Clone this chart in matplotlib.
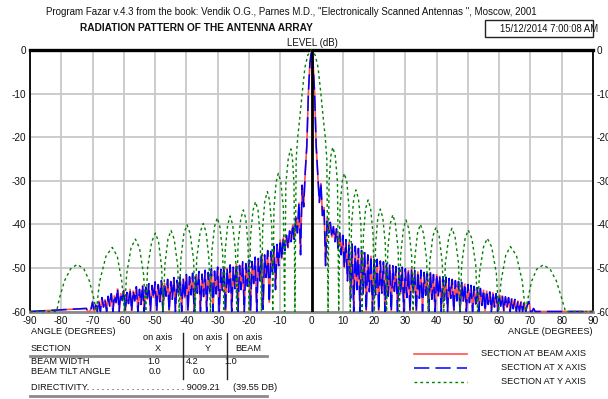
import numpy as np
import matplotlib
matplotlib.use("Agg")
import matplotlib.pyplot as plt
from matplotlib.lines import Line2D
from matplotlib.patches import Rectangle

plt.rcParams["font.family"] = ["Liberation Sans", "DejaVu Sans"]
plt.rcParams["axes.unicode_minus"] = False

# ---------------- data ----------------
x_ticks = list(range(-90, 91, 10))
y_ticks = list(range(-60, 1, 10))
level_floor = -60

# Section at beam axis / section at X axis, sampled every 0.5 deg from -72 to 72 deg (dB)
beam_start, beam_step = -72.0, 0.5
beam_db = [
    # -72.0 .. -67.5
    -59.3, -60.0, -60.0, -59.5, -57.8, -60.0, -58.5, -60.0, -57.5, -60.0,
    # -67.0 .. -62.5
    -56.8, -59.0, -57.2, -60.0, -56.5, -58.8, -55.9, -60.0, -56.3, -58.0,
    # -62.0 .. -57.5
    -54.7, -60.0, -55.8, -57.5, -55.0, -60.0, -55.6, -58.2, -54.8, -60.0,
    # -57.0 .. -52.5
    -55.2, -57.6, -54.3, -60.0, -54.9, -58.4, -53.9, -60.0, -54.4, -57.3,
    # -52.0 .. -47.5
    -53.6, -60.0, -54.0, -56.9, -53.2, -60.0, -53.8, -57.8, -52.9, -60.0,
    # -47.0 .. -42.5
    -53.4, -56.5, -52.6, -60.0, -53.1, -57.2, -52.2, -60.0, -52.8, -56.3,
    # -42.0 .. -37.5
    -51.8, -60.0, -52.4, -57.0, -51.5, -60.0, -52.0, -56.2, -51.2, -60.0,
    # -37.0 .. -32.5
    -51.7, -55.8, -50.8, -60.0, -51.4, -56.6, -50.5, -60.0, -51.0, -55.5,
    # -32.0 .. -27.5
    -50.2, -60.0, -50.7, -56.0, -49.8, -60.0, -50.3, -55.2, -49.6, -60.0,
    # -27.0 .. -22.5
    -50.0, -55.6, -49.3, -60.0, -49.8, -54.8, -49.0, -60.0, -49.4, -55.0,
    # -22.0 .. -17.5
    -48.6, -60.0, -49.0, -54.2, -48.2, -60.0, -48.5, -53.6, -47.5, -60.0,
    # -17.0 .. -12.5
    -47.8, -53.0, -46.8, -59.5, -47.0, -52.2, -46.0, -58.0, -46.2, -51.0,
    # -12.0 .. -7.5
    -45.0, -55.0, -44.6, -49.5, -43.5, -48.0, -43.0, -46.0, -42.5, -45.5,
    # -7.0 .. -2.5
    -41.5, -44.0, -40.0, -43.5, -38.5, -42.0, -35.0, -47.0, -31.0, -36.0,
    # -2.0 .. 2.0
    -28.0, -22.0, -10.0, -3.0, 0.0, -3.0, -10.0, -22.0, -28.5,
    # 2.5 .. 7.0
    -35.0, -30.5, -38.0, -36.0, -49.5, -38.5, -42.0, -39.5, -43.0, -40.5,
    # 7.5 .. 12.0
    -44.0, -41.0, -45.5, -42.0, -47.0, -42.5, -50.0, -43.5, -53.0, -44.0,
    # 12.5 .. 17.0
    -57.0, -44.5, -60.0, -45.0, -55.0, -45.5, -60.0, -46.0, -56.0, -46.5,
    # 17.5 .. 22.0
    -60.0, -47.0, -55.5, -47.2, -60.0, -47.8, -56.2, -48.0, -60.0, -48.4,
    # 22.5 .. 27.0
    -55.8, -48.6, -60.0, -49.0, -56.5, -49.2, -60.0, -49.5, -55.4, -49.7,
    # 27.5 .. 32.0
    -60.0, -50.0, -56.0, -49.8, -60.0, -50.2, -56.8, -50.4, -60.0, -50.1,
    # 32.5 .. 37.0
    -55.9, -50.6, -60.0, -50.8, -57.0, -50.5, -60.0, -51.0, -56.3, -51.2,
    # 37.5 .. 42.0
    -60.0, -50.9, -57.2, -51.5, -60.0, -51.4, -56.6, -51.8, -60.0, -52.0,
    # 42.5 .. 47.0
    -57.4, -52.1, -60.0, -52.4, -57.0, -52.6, -60.0, -52.9, -57.6, -53.1,
    # 47.5 .. 52.0
    -60.0, -53.3, -57.8, -53.6, -60.0, -53.8, -58.0, -54.0, -60.0, -54.2,
    # 52.5 .. 57.0
    -58.3, -54.5, -60.0, -54.7, -58.6, -55.0, -60.0, -55.2, -58.4, -55.5,
    # 57.5 .. 62.0
    -60.0, -55.6, -59.0, -55.9, -60.0, -56.1, -58.8, -56.3, -60.0, -56.6,
    # 62.5 .. 67.0
    -59.2, -56.8, -60.0, -57.0, -59.4, -57.2, -60.0, -57.5, -60.0, -57.6,
    # 67.5 .. 72.0
    -60.0, -58.0, -60.0, -58.5, -57.7, -60.0, -60.0, -59.3, -60.0, -60.0,
]
x_axis_db = list(beam_db)  # beam points along the array axis, so both sections coincide

# Section at Y axis: (angle deg, level dB) vertices of the lobes
green_deg = [
    -90.0,
    -81.5, -80.6, -79.0, -77.0, -74.9, -72.8, -71.0, -69.6, -68.8,
    -67.8, -65.7, -63.7, -62.1, -60.6, -59.8,
    -59.1, -57.7, -56.3, -55.0, -53.7, -53.0,
    -52.4, -51.1, -49.9, -48.9, -47.9, -47.4,
    -46.9, -45.9, -44.9, -43.9, -42.8, -42.3,
    -41.8, -40.8, -39.8, -38.8, -37.7, -37.2,
    -36.7, -35.6, -34.6, -33.7, -32.8, -32.3,
    -31.9, -31.0, -30.1, -29.3, -28.4, -28.0,
    -27.6, -26.8, -26.0, -25.2, -24.3, -23.9,
    -23.5, -22.6, -21.8, -21.0, -20.3, -19.9,
    -19.5, -18.7, -17.9, -17.1, -16.4, -16.0,
    -15.6, -14.9, -14.1, -13.4, -12.7, -12.4,
    -12.0, -11.3, -10.6, -9.8, -9.0, -8.6,
    -8.2, -7.4, -6.6, -6.1, -5.6, -5.3,
    -4.9, -4.4, -3.8, -3.0, -2.1, -1.2, 0.0, 1.2, 2.1, 3.0, 3.8, 4.4, 4.9, 5.3,
    5.6, 6.2, 6.8, 7.6, 8.3, 8.7,
    9.1, 9.8, 10.5, 11.3, 12.0, 12.4,
    12.8, 13.5, 14.2, 15.0, 15.8, 16.2,
    16.6, 17.3, 18.1, 18.9, 19.7, 20.1,
    20.5, 21.2, 22.0, 22.8, 23.6, 24.0,
    24.4, 25.2, 26.0, 26.8, 27.7, 28.1,
    28.5, 29.4, 30.2, 31.1, 32.0, 32.5,
    33.0, 33.9, 34.8, 35.8, 36.8, 37.3,
    37.8, 38.8, 39.8, 40.8, 41.8, 42.3,
    42.8, 43.9, 44.9, 45.9, 47.0, 47.5,
    48.0, 49.1, 50.1, 51.3, 52.5, 53.1,
    53.7, 55.0, 56.2, 57.6, 59.1, 59.8,
    60.6, 62.1, 63.6, 65.5, 67.4, 68.4,
    69.2, 70.4, 72.0, 74.1, 76.3, 78.3, 80.0, 81.2,
    90.0,
]
green_db = [
    -60.0,
    -60.0, -57.0, -53.0, -50.2, -49.2, -50.2, -53.0, -57.0, -60.0,
    -53.3, -47.3, -45.3, -47.3, -53.3, -60.0,
    -51.4, -45.4, -43.4, -45.4, -51.4, -60.0,
    -50.0, -44.0, -42.0, -44.0, -50.0, -60.0,
    -49.4, -43.4, -41.4, -43.4, -49.4, -60.0,
    -48.1, -42.1, -40.1, -42.1, -48.1, -60.0,
    -47.8, -41.8, -39.8, -41.8, -47.8, -60.0,
    -46.5, -40.5, -38.5, -40.5, -46.5, -60.0,
    -46.1, -40.1, -38.1, -40.1, -46.1, -60.0,
    -44.7, -38.7, -36.7, -38.7, -44.7, -60.0,
    -42.8, -36.8, -34.8, -36.8, -42.8, -60.0,
    -40.5, -34.5, -32.5, -34.5, -40.5, -60.0,
    -36.3, -30.3, -28.3, -30.3, -36.3, -60.0,
    -30.7, -24.7, -22.7, -24.7, -30.7, -60.0,
    -25.0, -20.0, -16.0, -10.0, -4.0, -1.2, 0.0, -1.2, -4.0, -10.0, -16.0, -20.0, -25.0, -60.0,
    -30.3, -24.3, -22.3, -24.3, -30.3, -60.0,
    -36.3, -30.3, -28.3, -30.3, -36.3, -60.0,
    -40.1, -34.1, -32.1, -34.1, -40.1, -60.0,
    -42.4, -36.4, -34.4, -36.4, -42.4, -60.0,
    -44.5, -38.5, -36.5, -38.5, -44.5, -60.0,
    -45.8, -39.8, -37.8, -39.8, -45.8, -60.0,
    -47.0, -41.0, -39.0, -41.0, -47.0, -60.0,
    -48.0, -42.0, -40.0, -42.0, -48.0, -60.0,
    -48.7, -42.7, -40.7, -42.7, -48.7, -60.0,
    -48.9, -42.9, -40.9, -42.9, -48.9, -60.0,
    -49.3, -43.3, -41.3, -43.3, -49.3, -60.0,
    -51.2, -45.2, -43.2, -45.2, -51.2, -60.0,
    -53.1, -47.1, -45.1, -47.1, -53.1, -60.0,
    -57.0, -53.0, -50.3, -49.3, -50.3, -53.0, -57.0, -60.0,
    -60.0,
]

legend_labels = ["SECTION AT BEAM AXIS", "SECTION AT X AXIS", "SECTION AT Y AXIS"]
table_rows = ["BEAM WIDTH", "BEAM TILT ANGLE"]
beam_width = ["1.0", "4.2", "1.0"]
tilt_angle = ["0.0", "0.0"]
directivity = 9009.21

# ---------------- styles ----------------
RED = "#ff5050"
BLUE = "#0000ff"
GREEN = "#008000"
red_style = dict(color=RED, lw=1.2, solid_joinstyle="miter")
blue_style = dict(color=BLUE, lw=1.1, dashes=(10, 4))
green_style = dict(color=GREEN, lw=1.0, dashes=(2, 2.2))

W, H = 608, 399
fig = plt.figure(figsize=(W / 100, H / 100), dpi=100)
fig.patch.set_facecolor("white")

ax = fig.add_axes([30 / W, 1 - 311.5 / H, 563 / W, 261.5 / H])
ax.set_xlim(-90, 90)
ax.set_ylim(level_floor, 0)
ax.set_xticks(x_ticks)
ax.set_yticks(y_ticks)
ax.set_xticklabels([str(v) for v in x_ticks])
ax.set_yticklabels([str(v) for v in y_ticks])
ax.grid(True, color="#c8c8c8", lw=1.3)
ax.set_axisbelow(True)
ax.tick_params(axis="both", length=0, labelsize=7.2, colors="#111111")
ax.tick_params(axis="x", pad=3.5)
ax.tick_params(axis="y", pad=2.5, labelright=True)

for side, (col, lw) in {"top": ("black", 2.4), "left": ("black", 1.3),
                        "right": ("black", 1.3), "bottom": ("#8a8a8a", 2.0)}.items():
    ax.spines[side].set_color(col)
    ax.spines[side].set_linewidth(lw)

beam_deg = beam_start + beam_step * np.arange(len(beam_db))
pad_deg = np.r_[x_ticks[0], beam_deg, x_ticks[-1]]
beam_line = np.r_[level_floor, beam_db, level_floor]
x_line = np.r_[level_floor, x_axis_db, level_floor]

ax.plot(pad_deg, beam_line, zorder=3, clip_on=False, **red_style)
ax.plot(pad_deg, x_line, zorder=3.1, clip_on=False, **blue_style)
ax.plot(green_deg, green_db, zorder=3.2, clip_on=False, **green_style)
ax.axvline(0, color="black", lw=2.0, zorder=3.5)

# ---------------- page furniture (pixel coordinates) ----------------
page = fig.add_axes([0, 0, 1, 1], zorder=5)
page.set_xlim(0, W)
page.set_ylim(H, 0)
page.axis("off")
page.patch.set_alpha(0)

txt = dict(fontsize=6.6, color="#111111", va="center")
page.text(46, 12, 'Program Fazar v.4.3 from the book: Vendik O.G., Parnes M.D., '
          '"Electronically Scanned Antennas ", Moscow, 2001', ha="left",
          fontsize=7.0, color="#111111", va="center")
page.text(80, 28, "RADIATION PATTERN OF THE ANTENNA ARRAY", ha="left",
          fontweight="bold", fontsize=7.3, color="#111111", va="center")
page.add_patch(Rectangle((485, 20), 108, 17, fill=False, ec="#222222", lw=1.0))
page.text(500, 28.5, "15/12/2014 7:00:08 AM", ha="left",
          fontsize=6.85, color="#111111", va="center")
page.text(312, 43, "LEVEL (dB)", ha="center", fontsize=7.0, color="#111111", va="center")

page.text(31, 332, "ANGLE (DEGREES)", ha="left", **txt)
page.text(592, 332, "ANGLE (DEGREES)", ha="right", **txt)

# parameter table
for cx, sub in zip([158, 208, 248], ["X", "Y", "BEAM"]):
    page.text(cx, 338, "on axis", ha="center", **txt)
    page.text(cx, 348.5, sub, ha="center", **txt)
page.text(31, 348.5, "SECTION", ha="left", **txt)
page.add_line(Line2D([30, 267], [355.5, 355.5], color="#8a8a8a", lw=2.0))
page.add_line(Line2D([183, 183], [333, 379], color="#222222", lw=1.0))
page.add_line(Line2D([227, 227], [333, 379], color="#222222", lw=1.0))
page.text(31, 361.5, table_rows[0], ha="left", **txt)
page.text(31, 372, table_rows[1], ha="left", **txt)
for xx, v in zip([147, 186, 224], beam_width):
    page.text(xx, 361.5, v, ha="left", **txt)
for xx, v in zip([149, 193], tilt_angle):
    page.text(xx, 372, v, ha="left", **txt)
page.text(31, 387, "DIRECTIVITY" + ". " * 20 + f"{directivity:.2f}", ha="left", **txt)
page.text(233, 387, f"({10 * np.log10(directivity):.2f} DB)", ha="left", **txt)
page.add_line(Line2D([30, 267], [396, 396], color="#8a8a8a", lw=2.0))

# legend
for yy, style, label in zip([354, 368, 382], [red_style, blue_style, green_style], legend_labels):
    page.add_line(Line2D([414, 467], [yy, yy], **style))
    page.text(586, yy, label, ha="right", **txt)

fig.savefig("out.png", dpi=100, facecolor="white")
